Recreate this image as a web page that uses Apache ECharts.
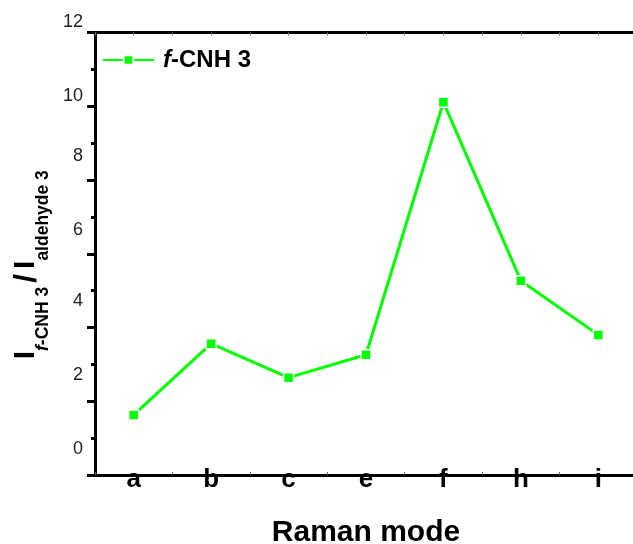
<!DOCTYPE html>
<html><head><meta charset="utf-8">
<script src="https://cdn.jsdelivr.net/npm/echarts@6/dist/echarts.min.js"></script>
<style>html,body{margin:0;padding:0;background:#fff}#c{width:633px;height:544px}</style>
</head><body><div id="c"></div>
<script>
const categories = ['a', 'b', 'c', 'e', 'f', 'h', 'i'];
const ratioValues = [1.63, 3.56, 2.64, 3.26, 10.11, 5.27, 3.80];
const yTickValues = [0, 2, 4, 6, 8, 10, 12];
const seriesName = 'f-CNH 3';
const xTitle = 'Raman mode';

const FF = '"Liberation Sans", Arial, sans-serif';
const chart = echarts.init(document.getElementById('c'), null, {renderer: 'canvas'});

function yLabelStyle(v) {
  if (v === 12) return 't';
  if (v === 10) return 'm';
  if (v === 6 || v === 8) return 'p';
  return 'n';
}

const option = {
  animation: false,
  backgroundColor: '#fff',
  grid: {left: 95, right: -4, top: 32.5, bottom: 69, containLabel: false, outerBoundsMode: 'none'},
  legend: {
    left: 97, top: 43,
    itemWidth: 51, itemHeight: 12,
    data: [{name: seriesName}],
    formatter: () => '{i|f}{b|-CNH 3}',
    textStyle: {
      padding: [0, 0, 0, 4],
      rich: {
        i: {fontStyle: 'italic', fontWeight: 'bold', fontSize: 24, color: '#000', fontFamily: FF},
        b: {fontWeight: 'bold', fontSize: 24, color: '#000', fontFamily: FF}
      }
    }
  },
  xAxis: [{
    type: 'category', data: categories, position: 'bottom',
    axisLine: {onZero: false, lineStyle: {color: '#000', width: 3}},
    axisTick: {show: true, inside: true, length: 3, lineStyle: {color: '#666', width: 1}},
    axisLabel: {fontSize: 26, fontWeight: 'bold', color: '#000', margin: -8, fontFamily: FF},
    name: xTitle, nameLocation: 'middle', nameGap: 43,
    nameTextStyle: {fontSize: 30, fontWeight: 'bold', color: '#000', fontFamily: FF}
  }, {
    type: 'value', position: 'top', min: -0.5, max: 6.5, interval: 0.5,
    axisLine: {show: true, onZero: false, lineStyle: {color: '#000', width: 3}},
    axisTick: {show: true, inside: true, length: 3, lineStyle: {color: '#777', width: 1}},
    axisLabel: {show: false}, splitLine: {show: false}
  }],
  yAxis: {
    type: 'value', min: yTickValues[0], max: yTickValues[yTickValues.length - 1], interval: 2,
    axisLine: {show: true, onZero: false, lineStyle: {color: '#000', width: 3}},
    axisTick: {show: true, length: 8, lineStyle: {color: '#000', width: 3}},
    minorTick: {show: true, splitNumber: 2, length: 4, lineStyle: {color: '#000', width: 3}},
    splitLine: {show: false},
    axisLabel: {
      margin: 12, color: '#222', fontSize: 18, fontFamily: FF, verticalAlign: 'bottom',
      formatter: v => '{' + yLabelStyle(v) + '|' + v + '}',
      rich: {
        n: {lineHeight: 52, fontSize: 18, color: '#222', fontFamily: FF},
        p: {lineHeight: 48, fontSize: 18, color: '#222', fontFamily: FF},
        m: {lineHeight: 20, fontSize: 18, color: '#222', fontFamily: FF},
        t: {lineHeight: 21, fontSize: 18, color: '#222', fontFamily: FF}
      }
    },
    name: '{I|I}{fi|f}{s|-CNH 3}{sl|/}{I|I}{s|aldehyde 3}',
    nameLocation: 'middle', nameRotate: 90, nameGap: 25,
    nameTextStyle: {
      padding: [0, 22, 0, 0],
      rich: {
        I: {fontSize: 30, fontWeight: 'bold', lineHeight: 30, verticalAlign: 'top', color: '#000', fontFamily: FF},
        sl: {fontSize: 32, fontWeight: 'bold', lineHeight: 30, verticalAlign: 'top', padding: [0, 5, 0, 4], color: '#000', fontFamily: FF},
        s: {fontSize: 17.5, fontWeight: 'bold', lineHeight: 41, verticalAlign: 'bottom', color: '#000', fontFamily: FF},
        fi: {fontSize: 17.5, fontWeight: 'bold', fontStyle: 'italic', lineHeight: 41, verticalAlign: 'bottom', color: '#000', fontFamily: FF}
      }
    }
  },
  series: [{
    type: 'line', name: seriesName, data: ratioValues,
    xAxisIndex: 0, yAxisIndex: 0,
    symbol: 'rect', symbolSize: 10,
    lineStyle: {color: '#00ff00', width: 3},
    itemStyle: {color: '#00ff00', borderColor: '#fff', borderWidth: 1.5},
    emphasis: {disabled: true}
  }]
};
chart.setOption(option);
</script>
</body></html>
